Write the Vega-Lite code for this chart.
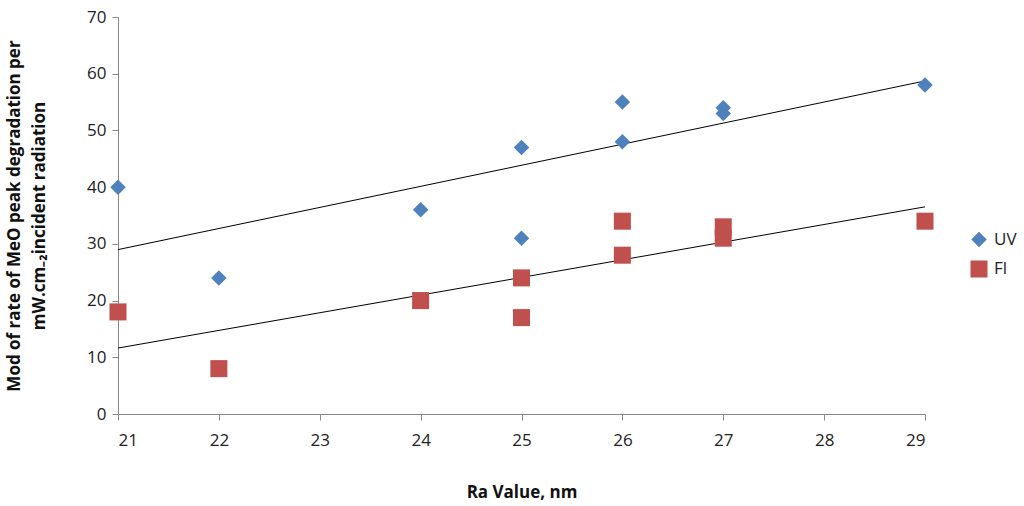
{
  "$schema": "https://vega.github.io/schema/vega-lite/v6.json",
  "width": 807,
  "height": 397,
  "autosize": {"type": "none"},
  "padding": {"left": 118, "top": 17, "right": 99, "bottom": 92},
  "background": "white",
  "data": {
    "values": [
      {"ra": 21, "rate": 40, "series": "UV"},
      {"ra": 22, "rate": 24, "series": "UV"},
      {"ra": 24, "rate": 36, "series": "UV"},
      {"ra": 25, "rate": 47, "series": "UV"},
      {"ra": 25, "rate": 31, "series": "UV"},
      {"ra": 26, "rate": 55, "series": "UV"},
      {"ra": 26, "rate": 48, "series": "UV"},
      {"ra": 27, "rate": 54, "series": "UV"},
      {"ra": 27, "rate": 53, "series": "UV"},
      {"ra": 29, "rate": 58, "series": "UV"},
      {"ra": 21, "rate": 18, "series": "Fl"},
      {"ra": 22, "rate": 8, "series": "Fl"},
      {"ra": 24, "rate": 20, "series": "Fl"},
      {"ra": 25, "rate": 24, "series": "Fl"},
      {"ra": 25, "rate": 17, "series": "Fl"},
      {"ra": 26, "rate": 34, "series": "Fl"},
      {"ra": 26, "rate": 28, "series": "Fl"},
      {"ra": 27, "rate": 33, "series": "Fl"},
      {"ra": 27, "rate": 31, "series": "Fl"},
      {"ra": 29, "rate": 34, "series": "Fl"}
    ]
  },
  "layer": [
    {
      "transform": [
        {"regression": "rate", "on": "ra", "groupby": ["series"]}
      ],
      "mark": {"type": "line", "color": "black", "strokeWidth": 1},
      "encoding": {
        "x": {"field": "ra", "type": "quantitative"},
        "y": {"field": "rate", "type": "quantitative"},
        "detail": {"field": "series"}
      }
    },
    {
      "mark": {"type": "point", "filled": true, "opacity": 1},
      "encoding": {
        "x": {
          "field": "ra",
          "type": "quantitative",
          "scale": {"domain": [21, 29], "nice": false, "zero": false},
          "axis": {
            "title": "Ra Value, nm",
            "values": [21, 22, 23, 24, 25, 26, 27, 28, 29],
            "format": "d",
            "grid": false,
            "domainColor": "#888888",
            "tickColor": "#888888",
            "tickSize": 6,
            "labelPadding": 12,
            "titlePadding": 36
          }
        },
        "y": {
          "field": "rate",
          "type": "quantitative",
          "scale": {"domain": [0, 70], "nice": false},
          "axis": {
            "title": ["Mod of rate of MeO peak degradation per", "mW.cm₋₂incident radiation"],
            "values": [0, 10, 20, 30, 40, 50, 60, 70],
            "format": "d",
            "grid": false,
            "domainColor": "#888888",
            "tickColor": "#888888",
            "tickSize": 6,
            "labelPadding": 6,
            "titlePadding": 38,
            "titleLineHeight": 25
          }
        },
        "color": {
          "field": "series",
          "type": "nominal",
          "scale": {"domain": ["UV", "Fl"], "range": ["#4F81BD", "#C0504D"]},
          "legend": {
            "title": null,
            "orient": "none",
            "legendX": 852,
            "legendY": 214,
            "labelFontSize": 17,
            "symbolSize": 230,
            "rowPadding": 12,
            "labelOffset": 6,
            "symbolStrokeWidth": 0
          }
        },
        "shape": {
          "field": "series",
          "type": "nominal",
          "scale": {"domain": ["UV", "Fl"], "range": ["diamond", "square"]},
          "legend": null
        },
        "size": {
          "field": "series",
          "type": "nominal",
          "scale": {"domain": ["UV", "Fl"], "range": [240, 290]},
          "legend": null
        }
      }
    }
  ],
  "config": {
    "font": "Open Sans",
    "view": {"stroke": null},
    "axis": {
      "labelFont": "Open Sans",
      "labelFontSize": 17,
      "labelColor": "#222222",
      "titleFont": "Open Sans",
      "titleFontSize": 17,
      "titleFontWeight": "bold",
      "titleColor": "#111111"
    },
    "legend": {"labelFont": "Open Sans", "labelColor": "#222222"}
  }
}
